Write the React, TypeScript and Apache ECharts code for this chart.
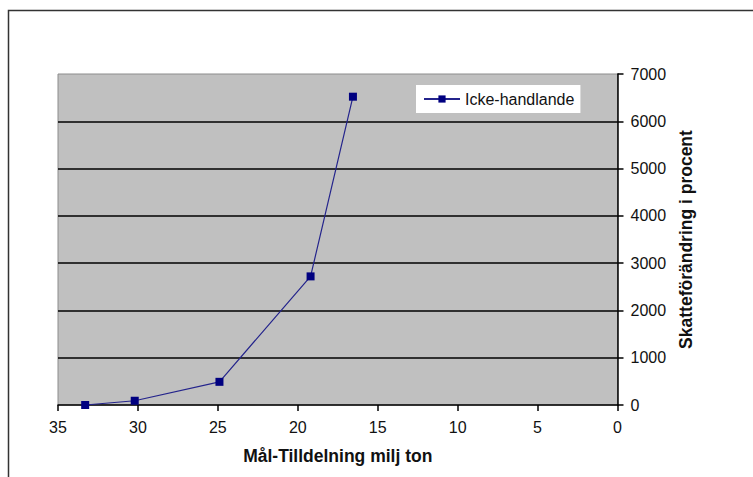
import React, { useEffect, useRef } from "react";
import * as echarts from "echarts";

const xValues = [33.3, 30.2, 24.9, 19.2, 16.55];
const yValues = [0, 90, 490, 2720, 6520];
const seriesName = "Icke-handlande";
const xTitle = "Mål-Tilldelning milj ton";
const yTitle = "Skatteförändring i procent";

export default function App() {
  const ref = useRef<HTMLDivElement>(null);
  useEffect(() => {
    if (!ref.current) return;
    const chart = echarts.init(ref.current, null, { renderer: "svg" });
    const font = "'Liberation Sans', Arial, sans-serif";
    chart.setOption({
      animation: false,
      backgroundColor: "#ffffff",
      textStyle: { fontFamily: font },
      graphic: [
        {
          type: "rect",
          shape: { x: 8.5, y: 10.5, width: 900, height: 600 },
          style: { fill: "none", stroke: "#333333", lineWidth: 1.5 },
          silent: true,
        },
      ],
      grid: {
        left: 58,
        right: 135.5,
        top: 74,
        bottom: 72,
        show: true,
        backgroundColor: "#c0c0c0",
        borderColor: "#8c8c8c",
        borderWidth: 1,
      },
      legend: {
        left: 416,
        top: 85,
        padding: [6, 6, 6, 7],
        backgroundColor: "#ffffff",
        itemWidth: 36,
        itemHeight: 9,
        textStyle: { fontFamily: font, fontSize: 16, color: "#111" },
        data: [seriesName],
      },
      xAxis: {
        type: "value",
        min: 0,
        max: 35,
        interval: 5,
        inverse: true,
        name: xTitle,
        nameLocation: "middle",
        nameGap: 42,
        nameTextStyle: { fontFamily: font, fontSize: 17.5, fontWeight: "bold", color: "#111" },
        axisLine: { show: true, onZero: false, lineStyle: { color: "#000", width: 1.5 } },
        axisTick: { show: true, length: 6, lineStyle: { color: "#000", width: 1.5 } },
        axisLabel: { margin: 14, fontSize: 16, color: "#111", fontFamily: font },
        splitLine: { show: false },
      },
      yAxis: {
        type: "value",
        position: "right",
        min: 0,
        max: 7000,
        interval: 1000,
        name: yTitle,
        nameLocation: "middle",
        nameGap: 52,
        nameRotate: 90,
        nameTextStyle: { fontFamily: font, fontSize: 17.5, fontWeight: "bold", color: "#111" },
        axisLine: { show: true, lineStyle: { color: "#000", width: 1.5 } },
        axisTick: { show: true, length: 6, lineStyle: { color: "#000", width: 1.5 } },
        axisLabel: {
          margin: 13,
          fontSize: 16,
          color: "#111",
          fontFamily: font,
          formatter: (v: number) => String(v),
        },
        splitLine: {
          show: true,
          showMinLine: false,
          showMaxLine: false,
          lineStyle: { color: "#000", width: 1.5 },
        },
      },
      series: [
        {
          name: seriesName,
          type: "line",
          data: xValues.map((x, i) => [x, yValues[i]]),
          symbol: "rect",
          symbolSize: 8,
          showAllSymbol: true,
          lineStyle: { color: "#24248c", width: 1.2 },
          itemStyle: { color: "#000080" },
        },
      ],
    });
    return () => chart.dispose();
  }, []);
  return (
    <div
      ref={ref}
      style={{ position: "fixed", left: 0, top: 0, width: 753, height: 477 }}
    />
  );
}
